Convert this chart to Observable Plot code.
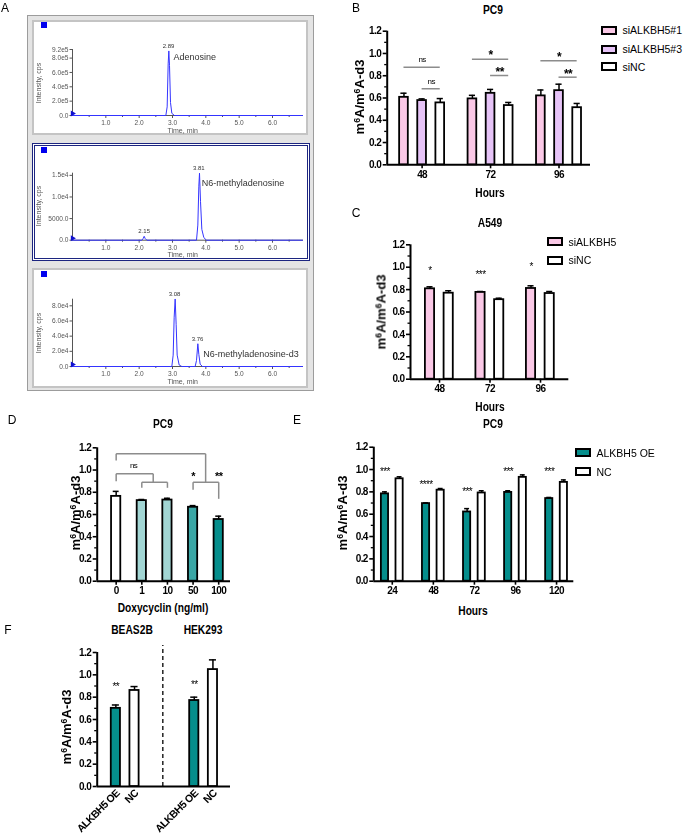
<!DOCTYPE html>
<html><head><meta charset="utf-8">
<script src="https://cdn.jsdelivr.net/npm/d3@7"></script>
<script src="https://cdn.jsdelivr.net/npm/@observablehq/plot@0.6"></script>
<style>
body{margin:0;background:#fff;}
#root{position:relative;width:685px;height:836px;overflow:hidden;background:#fff;font-family:"Liberation Sans",Arial,sans-serif;}
.t{position:absolute;white-space:nowrap;line-height:1;}
.t sup{font-size:0.68em;vertical-align:0.45em;line-height:0;}
.box{position:absolute;box-sizing:border-box;background:#fff;}
svg{overflow:visible;will-change:transform;}
</style></head><body><div id="root"></div>
<script>
// ---------- DATA ----------
// Panel A chromatograms (time in min, intensity in cps)
const adenoTime = [0, 2.80, 2.84, 2.87, 2.89, 2.91, 2.94, 2.98, 3.06, 6.9];
const adenoInt  = [0, 0, 1.2e5, 7.2e5, 9.0e5, 7.0e5, 1.8e5, 3.0e4, 0, 0];
const m6aTime = [0, 2.08, 2.12, 2.15, 2.18, 2.23, 3.72, 3.76, 3.79, 3.81, 3.84, 3.88, 3.94, 4.02, 6.9];
const m6aInt  = [0, 0, 400, 900, 400, 0, 0, 3500, 12500, 15500, 9000, 2500, 600, 0, 0];
const d3Time = [0, 2.98, 3.02, 3.05, 3.08, 3.11, 3.14, 3.20, 3.28, 3.68, 3.72, 3.76, 3.79, 3.83, 3.90, 6.9];
const d3Int  = [0, 0, 1.5e4, 6.5e4, 8.9e4, 5.5e4, 1.5e4, 2e3, 0, 0, 8e3, 3.0e4, 1.6e4, 3e3, 0, 0];
const chromNames = ["Adenosine", "N6-methyladenosine", "N6-methyladenosine-d3"];
const chromNameT = [3.03, 3.88, 3.92];
const chromNameV = [8.1e5, 1.31e4, 1.6e4];
const peakLabels1 = ["2.89"], peakT1 = [2.88], peakV1 = [9.0e5];
const peakLabels2 = ["2.15", "3.81"], peakT2 = [2.15, 3.79], peakV2 = [900, 15500];
const peakLabels3 = ["3.08", "3.76"], peakT3 = [3.06, 3.75], peakV3 = [8.9e4, 3.0e4];
const chromXTicks = [1, 2, 3, 4, 5, 6];
const chromXMinor = [0.5, 1.5, 2.5, 3.5, 4.5, 5.5, 6.5];
const yTicks1 = [0, 2e5, 4e5, 6e5, 8e5, 9.2e5], yLabels1 = ["0.0", "2.0e5", "4.0e5", "6.0e5", "8.0e5", "9.2e5"];
const yTicks2 = [0, 5000, 10000, 15000], yLabels2 = ["0.0", "5000.0", "1.0e4", "1.5e4"];
const yTicks3 = [0, 2e4, 4e4, 6e4, 8e4], yLabels3 = ["0.0", "2.0e4", "4.0e4", "6.0e4", "8.0e4"];

// Shared y ticks for bar panels
const yMajor = [0, 0.2, 0.4, 0.6, 0.8, 1.0, 1.2];
const yMinor = [0.1, 0.3, 0.5, 0.7, 0.9, 1.1];

// Panel B: PC9 knockdown
const bHours = ["48", "72", "96"];
const bSeries = ["siALKBH5#1", "siALKBH5#3", "siNC"];
const bColors = ["#fac8e6", "#e6c3f7", "#ffffff"];
const bSi1 = [0.606, 0.592, 0.619], bSi1Err = [0.037, 0.032, 0.053];
const bSi3 = [0.577, 0.642, 0.666], bSi3Err = [0.015, 0.035, 0.058];
const bSiNC = [0.556, 0.532, 0.513], bSiNCErr = [0.039, 0.028, 0.038];
const bSigGroup = [0, 0, 1, 1, 2, 2];
const bSigFrom = [0, 1, 0, 1, 0, 1];
const bSigTo = [2, 2, 2, 2, 2, 2];
const bSigY = [0.877, 0.683, 0.949, 0.802, 0.934, 0.787];
const bSigText = ["ns", "ns", "*", "**", "*", "**"];

// Panel C: A549 knockdown
const cHours = ["48", "72", "96"];
const cSeries = ["siALKBH5", "siNC"];
const cColors = ["#fac8e6", "#ffffff"];
const cSi = [0.807, 0.775, 0.810], cSiErr = [0.018, 0.008, 0.024];
const cNC = [0.768, 0.710, 0.765], cNCErr = [0.022, 0.013, 0.018];
const cStars = ["*", "***", "*"];
const cStarY = [0.988, 0.953, 1.024];

// Panel D: PC9 doxycyclin
const dDoses = ["0", "1", "10", "50", "100"];
const dColors = ["#ffffff", "#a2d6d4", "#a2d6d4", "#3aa7a6", "#058e8c"];
const dMean = [0.763, 0.725, 0.730, 0.665, 0.555];
const dErr = [0.045, 0.010, 0.016, 0.015, 0.030];
const dBrX1 = [0, 0, 3.49, 0, 0, 1.445, 1, 1, 2, 3, 3, 4];
const dBrX2 = [3.49, 0, 3.49, 1.445, 0, 1.445, 2, 1, 2, 4, 3, 4];
const dBrY1 = [1.146, 1.146, 1.146, 0.966, 0.966, 0.966, 0.890, 0.890, 0.890, 0.890, 0.890, 0.890];
const dBrY2 = [1.146, 1.085, 0.890, 0.966, 0.899, 0.890, 0.890, 0.840, 0.840, 0.890, 0.822, 0.741];
const dSigText = ["ns", "*", "**"];
const dSigX = [0.68, 3, 4];
const dSigY = [1.04, 0.968, 0.968];

// Panel E: PC9 overexpression
const eHours = ["24", "48", "72", "96", "120"];
const eSeries = ["ALKBH5 OE", "NC"];
const eColors = ["#058e8c", "#ffffff"];
const eOE = [0.782, 0.695, 0.620, 0.795, 0.740], eOEErr = [0.018, 0.006, 0.030, 0.015, 0.010];
const eNC = [0.917, 0.815, 0.790, 0.930, 0.885], eNCErr = [0.018, 0.015, 0.020, 0.022, 0.022];
const eStars = ["***", "****", "***", "***", "***"];
const eStarY = [1.006, 0.886, 0.827, 1.006, 1.006];

// Panel F: BEAS2B / HEK293
const fGroups = ["BEAS2B", "HEK293"];
const fConds = ["ALKBH5 OE", "NC"];
const fColors = ["#058e8c", "#ffffff"];
const fOE = [0.700, 0.770], fOEErr = [0.030, 0.030];
const fNC = [0.860, 1.047], fNCErr = [0.035, 0.087];
const fStars = ["**", "**"];
const fStarY = [0.913, 0.931];

// ---------- HELPERS ----------
const root = document.getElementById("root");
const SANS = '"Liberation Sans", Arial, sans-serif';

function label(html, cx, cy, o = {}) {
  const d = document.createElement("div");
  d.className = "t";
  d.innerHTML = html;
  d.style.fontSize = (o.size || 11) + "px";
  d.style.fontWeight = o.bold ? "bold" : "normal";
  d.style.fontFamily = SANS;
  d.style.color = o.color || "#000";
  d.style.left = cx + "px";
  d.style.top = cy + "px";
  if (o.ax === 0) d.style.transformOrigin = "0 50%";
  const ax = o.ax !== undefined ? o.ax : -50;
  d.style.transform = `translate(${ax}%,-50%)` + (o.sx ? ` scaleX(${o.sx})` : "") + (o.rot ? ` rotate(${o.rot}deg)` : "");
  root.appendChild(d);
}
function box(l, t, w, h, css) {
  const d = document.createElement("div");
  d.className = "box";
  Object.assign(d.style, {left: l + "px", top: t + "px", width: w + "px", height: h + "px"}, css);
  root.appendChild(d);
}
function place(svg, l, t) {
  svg.style.position = "absolute";
  svg.style.left = l + "px";
  svg.style.top = t + "px";
  root.appendChild(svg);
}
function legendSwatch(x, cy, fill, text) {
  box(x, cy - 4.5, 16, 9, {border: "2px solid #000", background: fill});
  label(text, x + 21.5, cy, {size: 10.5, ax: 0});
}
const barStyle = {fontFamily: SANS, fontSize: "10px", fontWeight: "bold", letterSpacing: "-0.6px", background: "transparent", color: "#000", overflow: "visible"};
const TITLE = {size: 12.5, bold: true, sx: 0.82};
const XT = {size: 12, bold: true, sx: 0.85};
function frameMarks(x0) {
  return [
    Plot.axisY(yMajor, {tickFormat: d3.format(".1f"), tickSize: 4, tickPadding: 2, strokeWidth: 1.6, label: null}),
    Plot.axisY(yMinor, {tickFormat: () => "", tickSize: 2.5, strokeWidth: 1.3, label: null}),
    Plot.ruleX([x0], {strokeWidth: 2}),
    Plot.ruleY([0], {strokeWidth: 2})
  ];
}
function barMarks(data, bw, cw) {
  return [
    Plot.ruleX(data, {x: "x", y1: "value", y2: d => d.value + d.err, strokeWidth: 1.5}),
    Plot.rect(data, {x1: d => d.x - bw / 2, x2: d => d.x + bw / 2, y1: 0, y2: "value", fill: "key", stroke: "#000", strokeWidth: 1.8}),
    Plot.ruleY(data, {y: d => d.value + d.err, x1: d => d.x - cw / 2, x2: d => d.x + cw / 2, strokeWidth: 1.5})
  ];
}
function chrom(o) {
  const line = o.time.map((t, i) => ({t, v: o.inten[i]}));
  const peaks = o.pl.map((l, i) => ({t: o.pt[i], v: o.pv[i], l}));
  const svg = Plot.plot({
    width: 276, height: o.h, marginLeft: 40, marginRight: 5, marginTop: o.mt, marginBottom: o.mb,
    x: {domain: [0, 6.93]}, y: {domain: o.yDomain},
    style: {fontFamily: SANS, fontSize: "6.6px", color: "#555", background: "transparent", overflow: "visible"},
    marks: [
      Plot.axisY(o.yTicks, {tickFormat: d => o.yLabels[o.yTicks.indexOf(d)], tickSize: 2.5, tickPadding: 1.5, label: null}),
      Plot.axisX(chromXTicks, {tickFormat: d3.format(".1f"), tickSize: 3, tickPadding: 2, label: null}),
      Plot.axisX(chromXMinor, {tickFormat: () => "", tickSize: 2, label: null}),
      Plot.ruleX([0], {stroke: "#555", strokeWidth: 1}),
      Plot.ruleY([0], {stroke: "#555", strokeWidth: 1}),
      Plot.line(line, {x: "t", y: "v", stroke: "#3434ff", strokeWidth: 1}),
      Plot.dot([{t: 0, v: 0}], {x: "t", y: "v", symbol: "triangle", rotate: 90, r: 2.2, fill: "#1010d0", stroke: "none", dy: -2}),
      Plot.text(peaks, {x: "t", y: "v", text: "l", dy: -5, fontSize: 6, fill: "#333"}),
      Plot.text([{t: o.nameT, v: o.nameV, n: o.name}], {x: "t", y: "v", text: "n", textAnchor: "start", fontSize: 9, fill: "#333"})
    ]
  });
  place(svg, 32, o.top);
  label("Time, min", 182.7, o.timeY, {size: 7, color: "#555"});
  label("Intensity, cps", 38, o.intY, {size: 7, color: "#555", rot: -90});
  box(41, o.sqY, 6, 6, {background: "#0000ee"});
}

// ---------- PANEL A ----------
box(27, 15, 287, 376, {border: "1px solid #9c9c9c", background: "#e4e4e4"});
box(32, 20, 276, 115, {border: "2px solid #c4c4c4"});
box(32, 143, 278, 118, {border: "3px double #1c2580"});
box(32, 268, 276, 120, {border: "2px solid #c4c4c4"});
chrom({top: 20, h: 115, mt: 29, mb: 20, yDomain: [0, 9.2e5], yTicks: yTicks1, yLabels: yLabels1,
  time: adenoTime, inten: adenoInt, pl: peakLabels1, pt: peakT1, pv: peakV1,
  nameT: chromNameT[0], nameV: chromNameV[0], name: chromNames[0], timeY: 130, intY: 82.5, sqY: 22});
chrom({top: 145, h: 115, mt: 27.7, mb: 20.3, yDomain: [0, 1.55e4], yTicks: yTicks2, yLabels: yLabels2,
  time: m6aTime, inten: m6aInt, pl: peakLabels2, pt: peakT2, pv: peakV2,
  nameT: chromNameT[1], nameV: chromNameV[1], name: chromNames[1], timeY: 254, intY: 206, sqY: 147});
chrom({top: 270, h: 116, mt: 28.7, mb: 20, yDomain: [0, 8.87e4], yTicks: yTicks3, yLabels: yLabels3,
  time: d3Time, inten: d3Int, pl: peakLabels3, pt: peakT3, pv: peakV3,
  nameT: chromNameT[2], nameV: chromNameV[2], name: chromNames[2], timeY: 380.7, intY: 332.5, sqY: 271});

// ---------- PANEL B ----------
{
  const off = [-0.265, 0, 0.265];
  const vals = [bSi1, bSi3, bSiNC], errs = [bSi1Err, bSi3Err, bSiNCErr];
  const data = bHours.flatMap((h, i) => bSeries.map((s, j) => ({x: i + off[j], key: s, value: vals[j][i], err: errs[j][i]})));
  const sig = bSigText.map((t, k) => ({x1: bSigGroup[k] + off[bSigFrom[k]], x2: bSigGroup[k] + off[bSigTo[k]], y: bSigY[k], t}));
  const xd = [-0.51, 2.46];
  const svg = Plot.plot({
    width: 270, height: 170, marginLeft: 56.7, marginRight: 10, marginTop: 10.7, marginBottom: 25.7,
    x: {domain: xd}, y: {domain: [0, 1.2]}, color: {domain: bSeries, range: bColors},
    style: barStyle,
    marks: [
      ...frameMarks(xd[0]),
      Plot.axisX([0, 1, 2], {tickFormat: i => bHours[i], tickSize: 4, tickPadding: 2, strokeWidth: 1.6, label: null}),
      ...barMarks(data, 0.127, 0.09),
      Plot.ruleY(sig, {y: "y", x1: "x1", x2: "x2", stroke: "#8c8c8c", strokeWidth: 1.5}),
      Plot.text(sig.filter(d => d.t === "ns"), {x: d => (d.x1 + d.x2) / 2, y: "y", text: "t", dy: -7.5, fontSize: 8, fontWeight: "normal"}),
      Plot.text(sig.filter(d => d.t !== "ns"), {x: d => (d.x1 + d.x2) / 2, y: "y", text: "t", dy: -3.5, fontSize: 12, fontWeight: "bold"})
    ]
  });
  place(svg, 330, 20);
  label("PC9", 493, 10, TITLE);
  label("m<sup>6</sup>A/m<sup>6</sup>A-d3", 359, 97, {size: 13, bold: true, rot: -90});
  label("Hours", 490, 193, XT);
  bSeries.forEach((s, j) => legendSwatch(601, [30.3, 49, 66.7][j], bColors[j], s));
}

// ---------- PANEL C ----------
{
  const off = [-0.188, 0.182];
  const vals = [cSi, cNC], errs = [cSiErr, cNCErr];
  const data = cHours.flatMap((h, i) => cSeries.map((s, j) => ({x: i + off[j], key: s, value: vals[j][i], err: errs[j][i]})));
  const stars = cStars.map((t, i) => ({x: i + off[0], y: cStarY[i], t}));
  const xd = [-0.574, 2.56];
  const svg = Plot.plot({
    width: 220, height: 170, marginLeft: 50, marginRight: 11.7, marginTop: 14.3, marginBottom: 21.3,
    x: {domain: xd}, y: {domain: [0, 1.2]}, color: {domain: cSeries, range: cColors},
    style: barStyle,
    marks: [
      ...frameMarks(xd[0]),
      Plot.axisX([0, 1, 2], {tickFormat: i => cHours[i], tickSize: 4, tickPadding: 2, strokeWidth: 1.6, label: null}),
      ...barMarks(data, 0.182, 0.12),
      Plot.text(stars, {x: "x", y: "y", text: "t", dy: 2.6, fontSize: 10, fontWeight: "normal", letterSpacing: "0px"})
    ]
  });
  place(svg, 360, 230);
  label("A549", 490, 223, TITLE);
  label("m<sup>6</sup>A/m<sup>6</sup>A-d3", 381, 312, {size: 13, bold: true, rot: -90});
  label("Hours", 490, 407, XT);
  cSeries.forEach((s, j) => legendSwatch(547, [241.7, 260][j], cColors[j], s));
}

// ---------- PANEL D ----------
{
  const data = dDoses.map((d, i) => ({x: i, key: d, value: dMean[i], err: dErr[i]}));
  const br = dBrX1.map((x1, k) => ({x1, x2: dBrX2[k], y1: dBrY1[k], y2: dBrY2[k]}));
  const sig = dSigText.map((t, k) => ({x: dSigX[k], y: dSigY[k], t}));
  const xd = [-0.74, 4.46];
  const svg = Plot.plot({
    width: 190, height: 160, marginLeft: 46.7, marginRight: 10, marginTop: 7.3, marginBottom: 19.3,
    x: {domain: xd}, y: {domain: [0, 1.2]}, color: {domain: dDoses, range: dColors},
    style: barStyle,
    marks: [
      ...frameMarks(xd[0]),
      Plot.axisX([0, 1, 2, 3, 4], {tickFormat: i => dDoses[i], tickSize: 4, tickPadding: 2, strokeWidth: 1.6, label: null}),
      ...barMarks(data, 0.36, 0.23),
      Plot.link(br, {x1: "x1", y1: "y1", x2: "x2", y2: "y2", stroke: "#8c8c8c", strokeWidth: 1.5}),
      Plot.text(sig.filter(d => d.t === "ns"), {x: "x", y: "y", text: "t", fontSize: 8, fontWeight: "normal"}),
      Plot.text(sig.filter(d => d.t !== "ns"), {x: "x", y: "y", text: "t", dy: 2.8, fontSize: 11, fontWeight: "bold"})
    ]
  });
  place(svg, 50, 440);
  label("PC9", 163, 424, TITLE);
  label("m<sup>6</sup>A/m<sup>6</sup>A-d3", 75, 513, {size: 13, bold: true, rot: -90});
  label("Doxycyclin (ng/ml)", 163, 608, XT);
}

// ---------- PANEL E ----------
{
  const off = [-0.178, 0.178];
  const vals = [eOE, eNC], errs = [eOEErr, eNCErr];
  const data = eHours.flatMap((h, i) => eSeries.map((s, j) => ({x: i + off[j], key: s, value: vals[j][i], err: errs[j][i]})));
  const stars = eStars.map((t, i) => ({x: i + off[0], y: eStarY[i], t}));
  const xd = [-0.45, 4.42];
  const svg = Plot.plot({
    width: 255, height: 160, marginLeft: 43.3, marginRight: 11.7, marginTop: 6.7, marginBottom: 19.3,
    x: {domain: xd}, y: {domain: [0, 1.2]}, color: {domain: eSeries, range: eColors},
    style: barStyle,
    marks: [
      ...frameMarks(xd[0]),
      Plot.axisX([0, 1, 2, 3, 4], {tickFormat: i => eHours[i], tickSize: 4, tickPadding: 2, strokeWidth: 1.6, label: null}),
      ...barMarks(data, 0.175, 0.12),
      Plot.text(stars, {x: "x", y: "y", text: "t", dy: 2.6, fontSize: 10, fontWeight: "normal", letterSpacing: "0px"})
    ]
  });
  place(svg, 330, 440);
  label("PC9", 493, 424, TITLE);
  label("m<sup>6</sup>A/m<sup>6</sup>A-d3", 342, 513, {size: 13, bold: true, rot: -90});
  label("Hours", 473, 611, XT);
  eSeries.forEach((s, j) => legendSwatch(575, [452.7, 471.7][j], eColors[j], s));
}

// ---------- PANEL F ----------
{
  const off = [-0.119, 0.119];
  const vals = [fOE, fNC], errs = [fOEErr, fNCErr];
  const data = fGroups.flatMap((g, i) => fConds.map((c, j) => ({x: i + off[j], key: c, value: vals[j][i], err: errs[j][i]})));
  const stars = fStars.map((t, i) => ({x: i + off[0], y: fStarY[i], t}));
  const xd = [-0.357, 1.343];
  const svg = Plot.plot({
    width: 190, height: 196, marginLeft: 46.7, marginRight: 10, marginTop: 12, marginBottom: 50,
    x: {domain: xd, axis: null}, y: {domain: [0, 1.2]}, color: {domain: fConds, range: fColors},
    style: barStyle,
    marks: [
      ...frameMarks(xd[0]),
      Plot.ruleX([0.48], {y1: 0, y2: 1.262, strokeDasharray: "4,3", strokeWidth: 1.3}),
      ...barMarks(data, 0.117, 0.09),
      Plot.text(stars, {x: "x", y: "y", text: "t", dy: 2.6, fontSize: 10, fontWeight: "normal", letterSpacing: "0px"}),
      Plot.text(data, {x: "x", y: 0, text: "key", rotate: -45, textAnchor: "end", dx: 2, dy: 5, fontSize: 10.5, fontWeight: "bold"})
    ]
  });
  place(svg, 50, 640);
  label("BEAS2B", 131.7, 630, TITLE);
  label("HEK293", 203, 630, TITLE);
  label("m<sup>6</sup>A/m<sup>6</sup>A-d3", 66, 727, {size: 13, bold: true, rot: -90});
}

// ---------- PANEL LETTERS ----------
label("A", 5, 8, {size: 12});
label("B", 356, 8, {size: 12});
label("C", 356, 213, {size: 12});
label("D", 12, 420, {size: 12});
label("E", 297, 420, {size: 12});
label("F", 8, 630, {size: 12});
</script></body></html>
